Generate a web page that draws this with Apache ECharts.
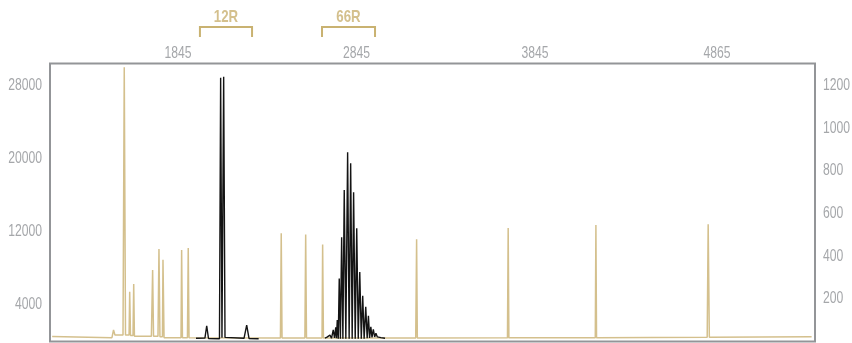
<!DOCTYPE html>
<html>
<head>
<meta charset="utf-8">
<script src="https://cdn.jsdelivr.net/npm/echarts@6/dist/echarts.min.js"></script>
<style>
  html, body { margin: 0; padding: 0; background: #fff; }
  #chart { width: 852px; height: 343px; }
</style>
</head>
<body>
<div id="chart"></div>
<script>
// Scan positions labelled along the top axis
const scanTicks = [1845, 2845, 3845, 4865];
// Tick labels for the two intensity axes
const leftTicks = [4000, 12000, 20000, 28000];
const rightTicks = [200, 400, 600, 800, 1000, 1200];

// Size-standard trace (right axis): [scan, intensity]
const ladderTrace = [
  [1140, 24], [1475, 18], [1484, 54], [1492, 30], [1537, 30],
  [1544, 1285], [1551, 30], [1571, 30], [1574.5, 233], [1579, 28],
  [1593, 28], [1597, 270], [1601, 25], [1696, 25], [1703, 335], [1708, 25],
  [1733, 25], [1738.5, 433], [1744, 22], [1758, 22], [1761, 383], [1767, 18],
  [1862, 18], [1865.5, 429], [1870, 18], [1898, 18], [1902.5, 438], [1907, 18],
  [2419, 16], [2423.5, 507], [2428, 16], [2556, 16], [2560.5, 502], [2565, 16],
  [2652, 16], [2655.5, 455], [2660, 16], [3177, 16], [3182, 479], [3186, 16],
  [3691, 17], [3695, 532], [3699, 17], [4183, 18], [4186.5, 546], [4190, 18],
  [4810, 20], [4815.5, 549], [4822, 20], [5395, 22]
];

// Sample trace (left axis): [scan, intensity]; null splits the two windows
const sampleTrace = [
  [1946, 350], [1996, 380], [2006, 1720], [2016, 330], [2077.5, 300],
  [2084, 28850], [2091.5, 400], [2101, 28960], [2108.5, 450], [2215, 350],
  [2230, 1800], [2243, 330], [2297, 300],
  [2297, null],
  [2668.5, 380], [2680, 480], [2690, 350], [2696.5, 700], [2705, 350],
  [2715, 1260], [2722, 400], [2729, 1550], [2733, 350], [2737.5, 2350],
  [2743, 300], [2748.5, 6900], [2755, 300], [2762, 11390], [2769, 300],
  [2776.5, 16570], [2785.5, 300], [2795.5, 20690], [2804, 300],
  [2812.5, 19490], [2821, 300], [2829, 16310], [2838, 300], [2846.5, 12380],
  [2855, 300], [2863.5, 7600], [2872, 300], [2880, 5000], [2888, 300],
  [2897, 3800], [2905, 350], [2912, 2800], [2918.5, 400], [2925.5, 1600],
  [2932, 450], [2939.5, 1330], [2947, 500], [2954, 900], [2962, 500],
  [2970, 650], [2982, 420], [3005, 350]
];

// Allele bins marked above the plot: [label, from scan, to scan]
const bins = [
  ['12R', 1968, 2260],
  ['66R', 2652, 2949]
];

const labelFont = '"Liberation Sans", Arial, sans-serif';
const labelColor = '#a5a7aa';
const gold = '#d4c08d';
const binGold = '#c9b271';
// Condensed look for the tick text
const narrow = 0.76;

const chart = echarts.init(document.getElementById('chart'), null, { renderer: 'canvas' });

const hiddenAxisParts = {
  axisLine: { show: false }, axisTick: { show: false },
  splitLine: { show: false }, axisLabel: { show: false }
};

chart.setOption({
  animation: false,
  grid: {
    left: 50, right: 37, top: 63.5, bottom: 1.5,
    containLabel: false, outerBoundsMode: 'none',
    show: true, borderColor: '#939598', borderWidth: 2, backgroundColor: '#fff'
  },
  xAxis: Object.assign({ type: 'value', position: 'top', min: 1128, max: 5414 }, hiddenAxisParts),
  yAxis: [
    Object.assign({ type: 'value', min: 0, max: 30400 }, hiddenAxisParts),
    Object.assign({ type: 'value', min: 0, max: 1303, position: 'right' }, hiddenAxisParts)
  ],
  series: [
    {
      name: 'ladder', type: 'line', yAxisIndex: 1, data: ladderTrace,
      showSymbol: false, symbol: 'none', z: 2,
      lineStyle: { color: gold, width: 1.5 }
    },
    {
      name: 'sample', type: 'line', yAxisIndex: 0, data: sampleTrace,
      showSymbol: false, symbol: 'none', connectNulls: false, z: 3,
      lineStyle: { color: '#141414', width: 1.4 }
    }
  ]
});

const rect = chart.getModel().getComponent('grid').coordinateSystem.getRect();
const graphics = [];

function tickText(text, x, y, align) {
  graphics.push({
    type: 'text', x: x, y: y, scaleX: narrow,
    style: {
      text: text, fill: labelColor, fontSize: 16, fontFamily: labelFont,
      align: align, verticalAlign: 'middle'
    }
  });
}

// Tick labels positioned through the axes' own scales
scanTicks.forEach(v => {
  tickText(String(v), chart.convertToPixel({ xAxisIndex: 0 }, v), rect.y - 10, 'center');
});
leftTicks.forEach(v => {
  tickText(String(v), rect.x - 8, chart.convertToPixel({ yAxisIndex: 0 }, v), 'right');
});
rightTicks.forEach(v => {
  tickText(String(v), rect.x + rect.width + 8, chart.convertToPixel({ yAxisIndex: 1 }, v), 'left');
});

// Bin brackets placed from the scan range of each bin
bins.forEach(([label, from, to]) => {
  const x1 = chart.convertToPixel({ xAxisIndex: 0 }, from);
  const x2 = chart.convertToPixel({ xAxisIndex: 0 }, to);
  graphics.push({
    type: 'polyline',
    shape: { points: [[x1, 37], [x1, 27], [x2, 27], [x2, 37]] },
    style: { stroke: binGold, lineWidth: 2, fill: null }
  });
  graphics.push({
    type: 'text',
    x: (x1 + x2) / 2, y: 17, scaleX: 0.78,
    style: {
      text: label, fill: gold, fontSize: 17, fontWeight: 'bold',
      fontFamily: labelFont, align: 'center', verticalAlign: 'middle'
    }
  });
});
chart.setOption({ graphic: graphics });
</script>
</body>
</html>
